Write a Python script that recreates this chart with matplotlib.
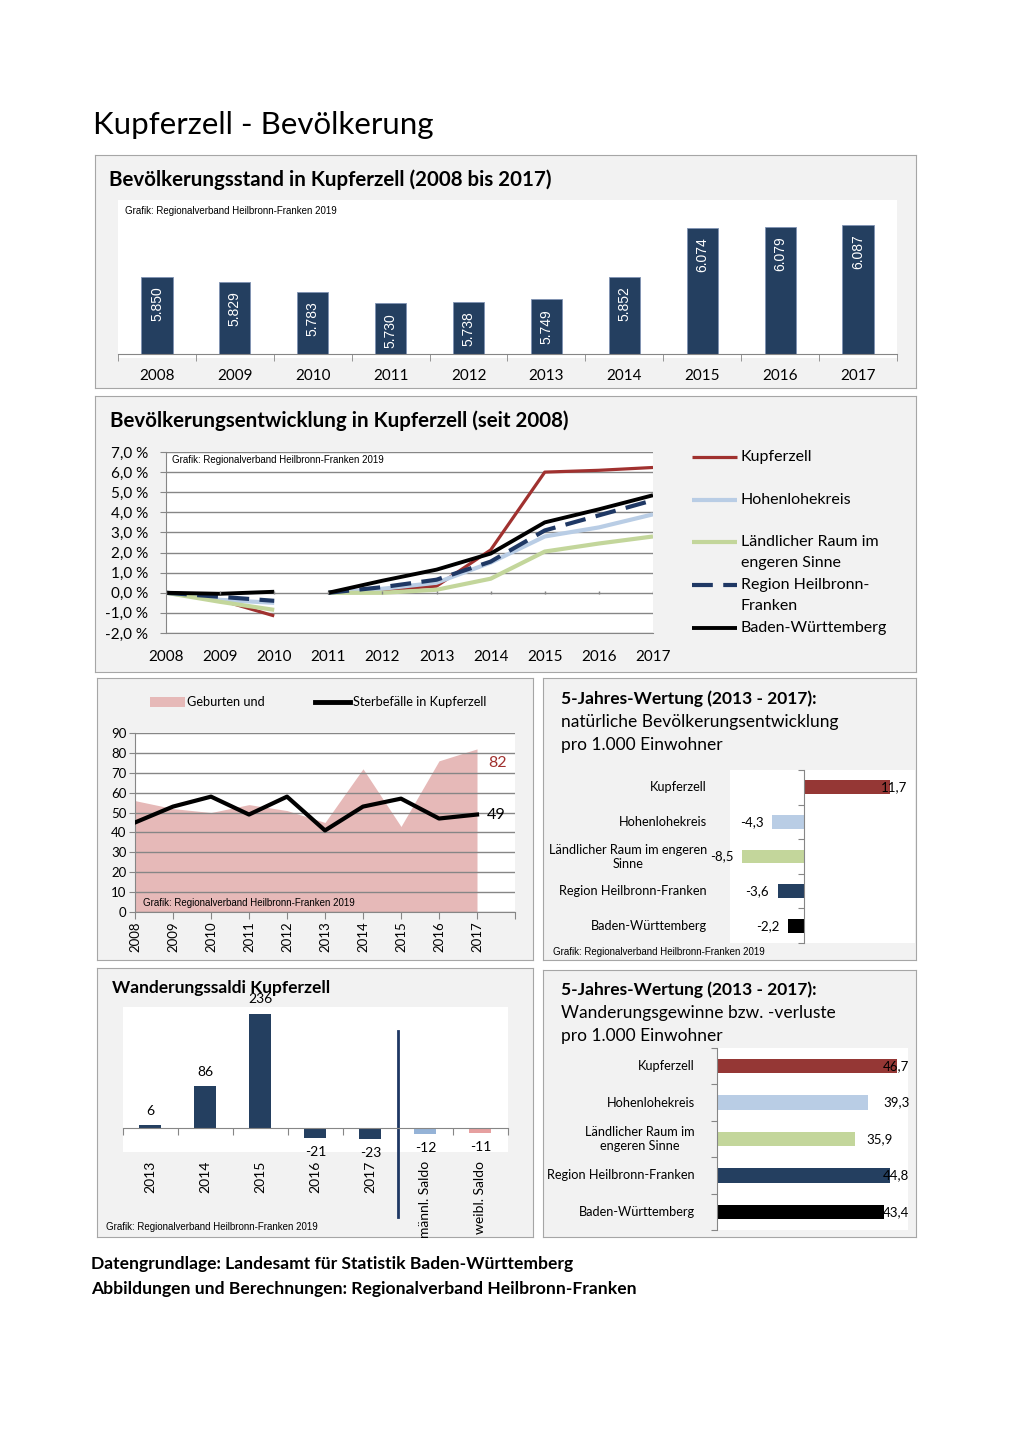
import numpy as np
import matplotlib
matplotlib.use('Agg')
import matplotlib.pyplot as plt
from matplotlib.lines import Line2D
from matplotlib.patches import Rectangle

W, H = 1020, 1443
plt.rcParams['font.family'] = ['Lato', 'DejaVu Sans']
ARIAL = ['Liberation Sans', 'DejaVu Sans']
GRAFIK = 'Grafik: Regionalverband Heilbronn-Franken 2019'

# Bevölkerungsstand
jahre = [2008, 2009, 2010, 2011, 2012, 2013, 2014, 2015, 2016, 2017]
bevoelkerung = [5850, 5829, 5783, 5730, 5738, 5749, 5852, 6074, 6079, 6087]

# Bevölkerungsentwicklung in % (2008-2010 Basis 2008, 2011-2017 Basis 2011)
entw_namen = ['Kupferzell', 'Hohenlohekreis', 'Ländlicher Raum im\nengeren Sinne',
              'Region Heilbronn-\nFranken', 'Baden-Württemberg']
entw_kupferzell = [0.0, -0.36, -1.15, 0.0, 0.14, 0.33, 2.13, 6.0, 6.09, 6.23]
entw_hohenlohe = [0.0, -0.35, -0.5, 0.0, 0.2, 0.5, 1.5, 2.8, 3.25, 3.9]
entw_laendlich = [0.0, -0.45, -0.85, 0.0, 0.0, 0.15, 0.7, 2.05, 2.45, 2.8]
entw_region = [0.0, -0.2, -0.4, 0.0, 0.28, 0.65, 1.55, 3.1, 3.85, 4.6]
entw_bw = [0.0, -0.05, 0.05, 0.0, 0.6, 1.15, 1.95, 3.5, 4.15, 4.85]

# Geburten und Sterbefälle
geburten = [56, 52, 50, 54, 51, 45, 72, 43, 76, 82]
sterbefaelle = [45, 53, 58, 49, 58, 41, 53, 57, 47, 49]

# 5-Jahres-Wertung
regionen_nat = ['Kupferzell', 'Hohenlohekreis', 'Ländlicher Raum im engeren\nSinne',
                'Region Heilbronn-Franken', 'Baden-Württemberg']
regionen_wand = ['Kupferzell', 'Hohenlohekreis', 'Ländlicher Raum im\nengeren Sinne',
                 'Region Heilbronn-Franken', 'Baden-Württemberg']
natuerlich = [11.7, -4.3, -8.5, -3.6, -2.2]
wanderung = [46.7, 39.3, 35.9, 44.8, 43.4]

# Wanderungssaldi
wand_kat = ['2013', '2014', '2015', '2016', '2017', 'männl. Saldo', 'weibl. Saldo']
wand_werte = [6, 86, 236, -21, -23, -12, -11]

NAVY = '#243f60'
RED = '#953735'
LBLUE = '#b9cde5'
GREEN = '#c3d69b'
DNAVY = '#1f3864'
GRID = '#868686'
reg_farben = [RED, LBLUE, GREEN, NAVY, 'black']


def box(x0, y0, x1, y1):
    return [x0 / W, 1 - y1 / H, (x1 - x0) / W, (y1 - y0) / H]


def ftext(x, y, s, **kw):
    fig.text(x / W, 1 - y / H, s, **kw)


def panel(x0, y0, x1, y1):
    a = fig.add_axes(box(x0, y0, x1, y1), zorder=0)
    a.set_facecolor('#f2f2f2')
    a.set_xticks([])
    a.set_yticks([])
    for s in a.spines.values():
        s.set_color('#a6a6a6')
    return a


def komma(v):
    return f'{v:.1f}'.replace('.', ',')


fig = plt.figure(figsize=(W / 100, H / 100), dpi=100)

ftext(93, 125, 'Kupferzell - Bevölkerung', fontsize=22.5, va='center')

# ---------- Bevölkerungsstand ----------
panel(95, 155, 916, 388)
ftext(109, 180, 'Bevölkerungsstand in Kupferzell (2008 bis 2017)', fontsize=14.8,
      fontweight='bold', va='center')
fig.add_artist(Rectangle((118 / W, 1 - 358 / H), (897 - 118) / W, (358 - 200) / H,
                         transform=fig.transFigure, facecolor='white', edgecolor='none',
                         zorder=1))
ax1 = fig.add_axes(box(118, 200, 897, 354), zorder=2)
ax1.set_facecolor('none')
x = np.arange(len(jahre))
ax1.bar(x, bevoelkerung, width=0.4, color=NAVY, edgecolor='#8093b3', linewidth=0.6)
for xi, v in zip(x, bevoelkerung):
    ax1.annotate(f'{v:,}'.replace(',', '.'), (xi, v), xytext=(0, -7),
                 textcoords='offset points', rotation=90, ha='center', va='top',
                 color='white', fontsize=10, family=ARIAL)
ax1.set_xlim(-0.5, len(jahre) - 0.5)
ax1.set_ylim(5500, 6200)
ax1.set_yticks([])
ax1.set_xticks(x)
ax1.set_xticklabels(jahre, fontsize=11)
ax1.set_xticks(np.arange(-0.5, len(jahre)), minor=True)
ax1.tick_params(axis='x', which='major', length=0, pad=11)
ax1.tick_params(axis='x', which='minor', length=5, color=GRID)
for s in ['top', 'right', 'left']:
    ax1.spines[s].set_visible(False)
ax1.spines['bottom'].set_color(GRID)
ax1.text(0.009, 0.93, GRAFIK, transform=ax1.transAxes, fontsize=7, family=ARIAL, va='center')

# ---------- Bevölkerungsentwicklung ----------
panel(95, 396, 916, 672)
ftext(110, 421, 'Bevölkerungsentwicklung in Kupferzell (seit 2008)', fontsize=14.8,
      fontweight='bold', va='center')
ax2 = fig.add_axes(box(166, 452, 653, 633), zorder=2)
ax2.set_facecolor('white')
serien = [entw_kupferzell, entw_hohenlohe, entw_laendlich, entw_region, entw_bw]
stile = [dict(color='#a0312f', lw=2.3), dict(color=LBLUE, lw=3),
         dict(color=GREEN, lw=3), dict(color=DNAVY, lw=3, dashes=(5, 2.5)),
         dict(color='black', lw=2.8)]
for werte, st in zip(serien, stile):
    ax2.plot(jahre[:3], werte[:3], solid_capstyle='butt', **st)
    ax2.plot(jahre[3:], werte[3:], solid_capstyle='butt', **st)
ax2.set_xlim(2008, 2017)
ax2.set_ylim(-2, 7)
ax2.set_yticks(range(-2, 8))
ax2.set_yticklabels([f'{v},0 %' for v in range(-2, 8)], fontsize=11)
ax2.set_xticks(jahre)
ax2.set_xticklabels(jahre, fontsize=11)
ax2.tick_params(axis='x', length=0, pad=12)
ax2.tick_params(axis='y', length=4, color=GRID, pad=9)
ax2.grid(axis='y', color=GRID, lw=1)
ax2.set_axisbelow(True)
for s in ['top', 'right']:
    ax2.spines[s].set_visible(False)
for s in ['left', 'bottom']:
    ax2.spines[s].set_color(GRID)
ax2.vlines(jahre, -0.08, 0.08, color=GRID, lw=1)
ax2.text(0.013, 0.955, GRAFIK, transform=ax2.transAxes, fontsize=7, family=ARIAL, va='center')
leg_y = [457, 500, 542, 585, 628]
for name, st, ly in zip(entw_namen, stile, leg_y):
    fig.add_artist(Line2D([692 / W, 737 / W], [1 - ly / H, 1 - ly / H],
                          transform=fig.transFigure, solid_capstyle='butt', zorder=3, **st))
    for i, zeile in enumerate(name.split('\n')):
        ftext(741, ly + 21 * i, zeile, fontsize=11.5, va='center')

# ---------- Geburten und Sterbefälle ----------
panel(97, 678, 533, 960)
fig.add_artist(Rectangle((150 / W, 1 - 707 / H), 35 / W, 10 / H, transform=fig.transFigure,
                         facecolor='#e6b9b8', edgecolor='none', zorder=3))
ftext(187, 702, 'Geburten und', fontsize=9.2, va='center')
fig.add_artist(Line2D([315 / W, 350 / W], [1 - 702 / H] * 2, transform=fig.transFigure,
                      color='black', lw=3.5, zorder=3))
ftext(353, 702, 'Sterbefälle in Kupferzell', fontsize=9.2, va='center')
ax3 = fig.add_axes(box(135, 733, 515, 912), zorder=2)
ax3.set_facecolor('white')
ax3.fill_between(jahre, geburten, 0, color='#e6b9b8', lw=0, zorder=1)
ax3.plot(jahre, sterbefaelle, color='black', lw=3, zorder=3)
ax3.set_xlim(2008, 2018)
ax3.set_ylim(0, 90)
ax3.set_yticks(range(0, 91, 10))
ax3.tick_params(axis='y', labelsize=9.5, length=4, color=GRID, pad=2)
ax3.set_xticks(jahre + [2018])
ax3.set_xticklabels([str(j) for j in jahre] + [''], rotation=90, fontsize=9.5)
ax3.tick_params(axis='x', length=5, color=GRID, pad=2)
ax3.grid(axis='y', color=GRID, lw=1, zorder=2)
for s in ['top', 'right']:
    ax3.spines[s].set_visible(False)
for s in ['left', 'bottom']:
    ax3.spines[s].set_color(GRID)
ax3.annotate(str(geburten[-1]), (jahre[-1], geburten[-1]), xytext=(8, -10),
             textcoords='offset points', color='#a0312f', fontsize=11.5, va='center', ha='left')
ax3.annotate(str(sterbefaelle[-1]), (jahre[-1], sterbefaelle[-1]), xytext=(7, 0),
             textcoords='offset points', color='black', fontsize=11.5, va='center', ha='left')
ax3.text(0.02, 0.05, GRAFIK, transform=ax3.transAxes, fontsize=7, family=ARIAL,
         va='center', zorder=4)


def hbar_panel(ax, werte, namen, xlim, label_x, rand):
    y = np.arange(len(werte))
    ax.set_facecolor('white')
    ax.barh(y, werte, height=0.4, color=reg_farben, zorder=2)
    ax.set_xlim(*xlim)
    ax.set_ylim(len(werte) - 0.5, -0.5)
    ax.set_xticks([])
    ax.set_yticks(np.arange(-0.5, len(werte)))
    ax.set_yticklabels([])
    ax.tick_params(axis='y', length=4, color=GRID)
    for s in ['top', 'right', 'bottom']:
        ax.spines[s].set_visible(False)
    ax.spines['left'].set_position(('data', 0))
    ax.spines['left'].set_color(GRID)
    for yi, name in zip(y, namen):
        ax.text(label_x, yi, name, transform=ax.get_yaxis_transform(), ha='right',
                va='center', multialignment='center', fontsize=9.2)
    span = xlim[1] - xlim[0]
    for yi, v in zip(y, werte):
        if v < 0:
            ax.annotate(komma(v), (v, yi), xytext=(-6, 0), textcoords='offset points',
                        ha='right', va='center', fontsize=9.5)
        elif v + 0.25 * span > xlim[1]:
            ax.annotate(komma(v), (xlim[1], yi), xytext=(rand, 0), textcoords='offset points',
                        ha='right', va='center', fontsize=9.5, zorder=3)
        else:
            ax.annotate(komma(v), (v, yi), xytext=(8, 0), textcoords='offset points',
                        ha='left', va='center', fontsize=9.5)


# ---------- 5-Jahres-Wertung natürlich ----------
panel(543, 678, 916, 960)
ftext(561, 699, '5-Jahres-Wertung (2013 - 2017):', fontsize=12.5, fontweight='bold', va='center')
ftext(561, 722, 'natürliche Bevölkerungsentwicklung', fontsize=12.5, va='center')
ftext(561, 745, 'pro 1.000 Einwohner', fontsize=12.5, va='center')
ax4 = fig.add_axes(box(730, 770, 915, 943), zorder=2)
hbar_panel(ax4, natuerlich, regionen_nat, (-10.07, 15.1), -0.124, -6)
ftext(553, 952, GRAFIK, fontsize=7, family=ARIAL, va='center')

# ---------- Wanderungssaldi ----------
panel(97, 968, 533, 1237)
ax5 = fig.add_axes(box(123, 1007, 508, 1152), zorder=2)
ax5.set_facecolor('white')
xw = np.arange(len(wand_kat))
farben5 = [NAVY] * 5 + ['#95b3d7', '#e6a0a0']
ax5.bar(xw, wand_werte, width=0.4, color=farben5, zorder=2)
ax5.set_xlim(-0.5, len(wand_kat) - 0.5)
ax5.set_ylim(-50, 250)
ax5.set_yticks([])
ax5.set_xticks(np.arange(-0.5, len(wand_kat)))
ax5.set_xticklabels([])
ax5.tick_params(axis='x', length=5, color=GRID)
for s in ['top', 'right', 'left']:
    ax5.spines[s].set_visible(False)
ax5.spines['bottom'].set_position(('data', 0))
ax5.spines['bottom'].set_color(GRID)
for xi, v in zip(xw, wand_werte):
    if v >= 0:
        ax5.annotate(str(v), (xi, v), xytext=(0, 6), textcoords='offset points',
                     ha='center', va='bottom', fontsize=10)
    else:
        ax5.annotate(str(v), (xi, v), xytext=(0, -6), textcoords='offset points',
                     ha='center', va='top', fontsize=10)
for xi, k in zip(xw, wand_kat):
    ax5.text(xi, -0.06, k, transform=ax5.get_xaxis_transform(), rotation=90,
             ha='center', va='top', fontsize=10)
ax5.axvline(4.5, ymin=-0.448, ymax=0.834, color=DNAVY, lw=2, clip_on=False)
ftext(112, 988, 'Wanderungssaldi Kupferzell', fontsize=12.5, fontweight='bold', va='center',
      zorder=1)
ftext(106, 1227, GRAFIK, fontsize=7, family=ARIAL, va='center')

# ---------- 5-Jahres-Wertung Wanderung ----------
panel(543, 970, 916, 1237)
ftext(561, 990, '5-Jahres-Wertung (2013 - 2017):', fontsize=12.5, fontweight='bold', va='center')
ftext(561, 1013, 'Wanderungsgewinne bzw. -verluste', fontsize=12.5, va='center')
ftext(561, 1036, 'pro 1.000 Einwohner', fontsize=12.5, va='center')
ax6 = fig.add_axes(box(717, 1048, 908, 1230), zorder=2)
hbar_panel(ax6, wanderung, regionen_wand, (0, 49.6), -0.115, 1)

# Fußzeile
ftext(91, 1264, 'Datengrundlage: Landesamt für Statistik Baden-Württemberg', fontsize=12.6,
      fontweight='bold', va='center')
ftext(91, 1289, 'Abbildungen und Berechnungen: Regionalverband Heilbronn-Franken', fontsize=12.6,
      fontweight='bold', va='center')

fig.savefig('out.png', dpi=100)
